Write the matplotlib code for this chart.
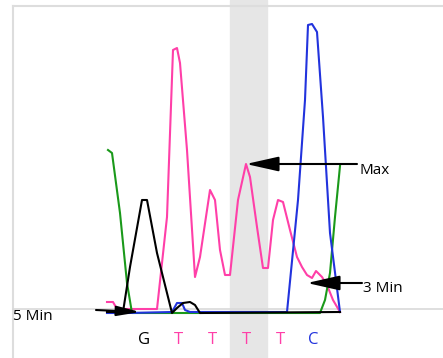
import matplotlib.pyplot as plt

# trace values: scan position vs signal (baseline = 0)
pink_x = [107, 113, 117, 157, 167, 173, 177, 180, 187, 195, 200, 210, 215, 220, 225, 230, 238,
          246, 250, 257, 263, 268, 273, 278, 283, 290, 297, 302, 307, 312, 316, 322, 327, 333, 340]
pink_y = [10, 10, 3, 3, 95, 262, 264, 249, 162, 35, 55, 122, 112, 62, 37, 37, 112,
          148, 135, 85, 44, 44, 92, 112, 110, 82, 55, 45, 37, 34, 41, 35, 27, 12, 0]

blue_x = [107, 128, 172, 177, 182, 185, 190, 287, 298, 305, 308, 312, 317, 323, 330, 340]
blue_y = [-1, -1, 0, 9, 9, 2, 0, 0, 112, 212, 287, 288, 280, 195, 79, 0]

green_x = [108, 112, 120, 127, 132, 320, 325, 330, 335, 340]
green_y = [162, 159, 99, 29, -1, -1, 12, 39, 95, 146]

black_x = [107, 123, 130, 142, 147, 157, 172, 177, 183, 190, 195, 200, 340]
black_y = [0, 0, 45, 112, 112, 59, -1, 4, 9, 10, 7, -1, 0]

base_pos = [144, 178, 212, 246, 280, 313]
base_labels = ['G', 'T', 'T', 'T', 'T', 'C']

pink = '#ff3fa8'
blue = '#2233dd'
green = '#1a991a'
base_colors = ['black', pink, pink, pink, pink, blue]

dpi = 100
fig = plt.figure(figsize=(4.43, 3.58), dpi=dpi)
ax = fig.add_axes([0, 0, 1, 1])
ax.set_xlim(0, 443)
ax.set_ylim(-46, 312)
ax.axis('off')

# highlighted base column
ax.axvspan(230, 267, color='#e6e6e6', zorder=0)
# frame and baseline guides
ax.plot([13, 13], [-46, 306], color='#dddddd', lw=1.5, zorder=1)
ax.plot([13, 443], [306, 306], color='#dddddd', lw=1.5, zorder=1)
ax.plot([13, 443], [3, 3], color='#d9d9d9', lw=1.2, zorder=1)

ax.plot(green_x, green_y, color=green, lw=1.5, zorder=3)
ax.plot(pink_x, pink_y, color=pink, lw=1.5, zorder=2)
ax.plot(blue_x, blue_y, color=blue, lw=1.5, zorder=4)
ax.plot(black_x, black_y, color='black', lw=1.5, zorder=5)

for x, lab, c in zip(base_pos, base_labels, base_colors):
    ax.text(x, -28, lab, color=c, ha='center', va='center', fontsize=12, family='Open Sans')

arrow = dict(arrowstyle='-|>,head_length=2.0,head_width=0.45', mutation_scale=10,
             color='black', lw=1.5, shrinkA=0, shrinkB=0)
ax.annotate('', xy=(246, 148), xytext=(357, 148), arrowprops=arrow, zorder=6)
ax.annotate('', xy=(307, 29), xytext=(362, 29), arrowprops=arrow, zorder=6)
ax.annotate('', xy=(140, 0), xytext=(96, 2), zorder=6,
            arrowprops=dict(arrowstyle='-|>,head_length=1.4,head_width=0.3', mutation_scale=10,
                            color='black', lw=1.5, shrinkA=0, shrinkB=0))

ax.text(360, 142, 'Max', ha='left', va='center', fontsize=11, family='Open Sans')
ax.text(363, 24, '3 Min', ha='left', va='center', fontsize=11, family='Open Sans')
ax.text(13, -4, '5 Min', ha='left', va='center', fontsize=11, family='Open Sans')

fig.savefig('out.png', dpi=dpi)
